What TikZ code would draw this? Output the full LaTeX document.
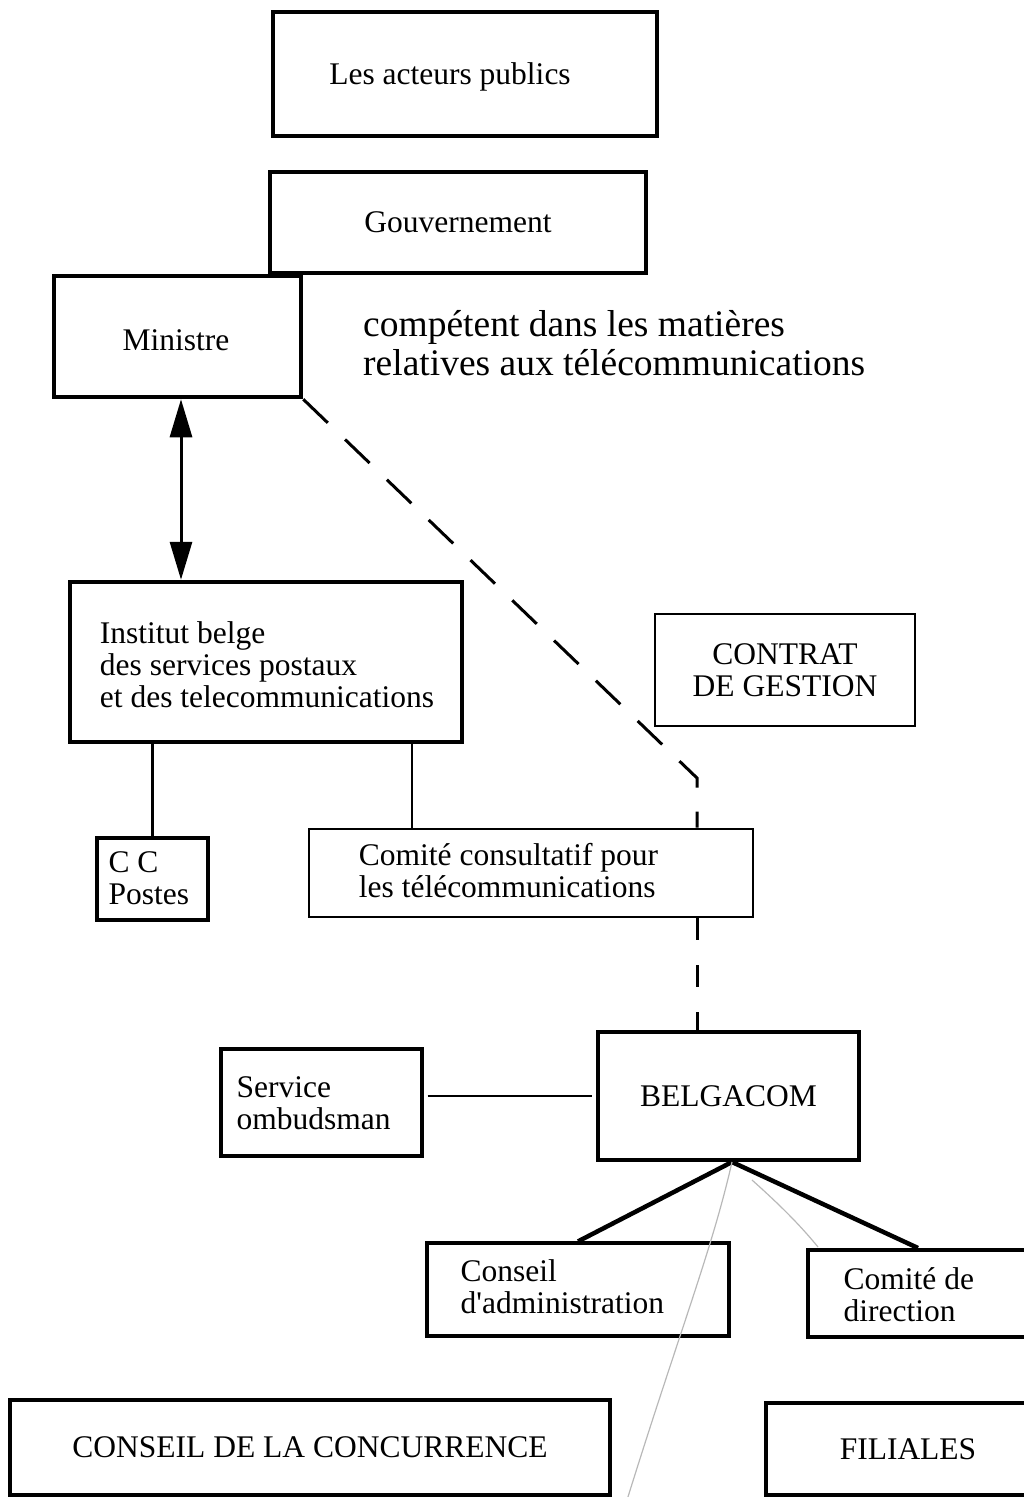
\documentclass[tikz,border=0pt]{standalone}
\usepackage{fontspec}
\setmainfont{Liberation Serif}
\usetikzlibrary{arrows.meta,calc}
\begin{document}
\begin{tikzpicture}[x=1pt,y=-1pt,
  every node/.style={font=\fontsize{31.5}{32}\selectfont},
  thickbox/.style={draw,line width=4.5pt,inner sep=0pt},
  thinbox/.style={draw,line width=2.6pt,inner sep=0pt},
  midbox/.style={draw,line width=3.2pt,inner sep=0pt},
  lbl/.style={anchor=west,align=left,inner sep=0pt},
  link/.style={line width=2.6pt},
  tree/.style={line width=4.5pt},
  dashlink/.style={line width=3pt,dash pattern=on 34pt off 24pt},
  dashlinkb/.style={line width=3pt,dash pattern=on 22pt off 25pt},
  faint/.style={black!28,line width=1.2pt},
  tri/.tip={Triangle[length=38pt,width=22pt]}
]
\useasboundingbox (0,0) rectangle (1024,1497);
\clip (0,0) rectangle (1024,1497);

% boxes
\node[thickbox,minimum width=384pt,minimum height=124pt] (actors) at (465,74) {};
\node[inner sep=0pt] (actors-t) at (450,77) {Les acteurs publics};
\node[thickbox,minimum width=376pt,minimum height=101pt] (gouv) at (458,222.5) {Gouvernement};
\node[thickbox,minimum width=247pt,minimum height=121pt,fill=white] (ministre) at (177.5,336.5) {};
\node[inner sep=0pt] (ministre-t) at (176,340) {Ministre};
\node[lbl,font=\fontsize{37.5}{39}\selectfont] (compet) at (363,343) {compétent dans les matières\\relatives aux télécommunications};

\node[thickbox,minimum width=392pt,minimum height=160pt] (institut) at (266,662) {};
\node[lbl] (institut-t) at ($(institut.west)+(32,3)$) {Institut belge\\des services postaux\\et des telecommunications};

\node[thinbox,minimum width=260pt,minimum height=112pt,align=center] (contrat) at (785,670) {CONTRAT\\DE GESTION};

\node[midbox,minimum width=111pt,minimum height=82pt] (cc) at (152.5,879) {};
\node[lbl] (cc-t) at ($(cc.west)+(13,-1)$) {C C\\Postes};

\node[thinbox,minimum width=444pt,minimum height=88pt] (comite) at (531,873) {};
\node[lbl] (comite-t) at ($(comite.west)+(51,-2)$) {Comité consultatif pour\\les télécommunications};

\node[midbox,minimum width=201pt,minimum height=107pt] (ombud) at (321.5,1102.5) {};
\node[lbl] (ombud-t) at ($(ombud.west)+(17,1)$) {Service\\ombudsman};

\node[thickbox,minimum width=261pt,minimum height=128pt] (belgacom) at (728.5,1096) {BELGACOM};

\node[midbox,minimum width=302pt,minimum height=93pt] (conseil) at (578,1289.5) {};
\node[lbl] (conseil-t) at ($(conseil.west)+(35,-3)$) {Conseil\\d\textquotesingle administration};

\node[midbox,minimum width=242pt,minimum height=87pt] (direction) at (929,1293.5) {};
\node[lbl] (direction-t) at ($(direction.west)+(37,1)$) {Comité de\\direction};

\node[thickbox,minimum width=600pt,minimum height=95pt] (concurrence) at (310,1447.5) {CONSEIL DE LA CONCURRENCE};
\node[thickbox,minimum width=284pt,minimum height=92pt] (filiales) at (908,1449) {FILIALES};

% helper coordinates
\coordinate (arrowx) at (181,500);
\coordinate (bend) at (697,778);
\coordinate (lx) at (412,800);
\coordinate (apex) at (732,1162);
\coordinate (dirtop) at (918,1248);
\coordinate (faintA) at (627,1500);
\coordinate (faintB) at (818,1247);

% connectors
\draw[line width=3pt,tri-tri] (ministre.south -| arrowx) -- (institut.north -| arrowx);
\draw[dashlink] (ministre.south east) -- (bend) -- (comite.north -| bend);
\draw[dashlinkb] (comite.south -| bend) -- (belgacom.north -| bend);
\draw[link] (institut.south -| cc.north) -- (cc.north);
\draw[link] (institut.south -| lx) -- (comite.north -| lx);
\draw[link,shorten <=4pt,shorten >=4pt] (ombud.east |- belgacom.west) -- (belgacom.west);
\draw[tree] (apex) -- (conseil.north);
\draw[tree] (apex) -- (dirtop);
\draw[faint] (apex) .. controls (712,1250) and (680,1330) .. (faintA);
\draw[faint] ($(apex)+(20,18)$) .. controls (780,1205) and (800,1225) .. (faintB);
\end{tikzpicture}
\end{document}
